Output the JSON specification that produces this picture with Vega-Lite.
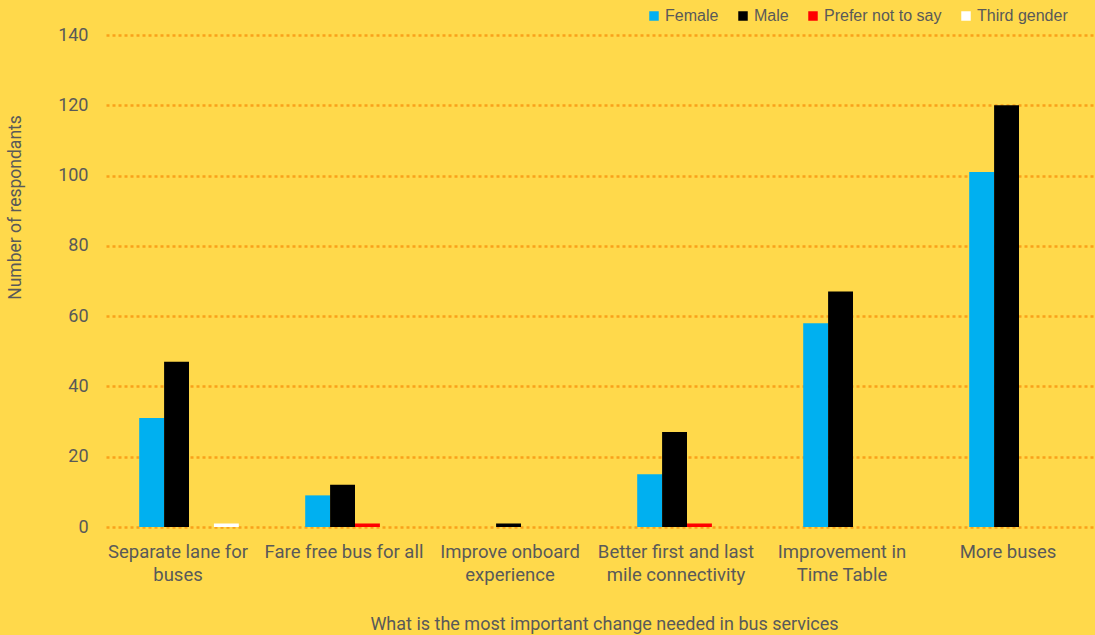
{
  "$schema": "https://vega.github.io/schema/vega-lite/v6.json",
  "autosize": {"type": "none"},
  "width": 989,
  "height": 492,
  "padding": {"left": 106, "top": 35, "right": 0, "bottom": 108},
  "background": "#FFD94B",
  "config": {
    "view": {"stroke": null},
    "axis": {"labelColor": "#595959", "titleColor": "#595959", "labelFont": "Roboto", "titleFont": "Roboto", "titleFontWeight": "normal"}
  },
  "data": {
    "values": [
      {"change": "Separate lane for buses", "gender": "Female", "count": 31},
      {"change": "Separate lane for buses", "gender": "Male", "count": 47},
      {"change": "Separate lane for buses", "gender": "Prefer not to say", "count": 0},
      {"change": "Separate lane for buses", "gender": "Third gender", "count": 1},
      {"change": "Fare free bus for all", "gender": "Female", "count": 9},
      {"change": "Fare free bus for all", "gender": "Male", "count": 12},
      {"change": "Fare free bus for all", "gender": "Prefer not to say", "count": 1},
      {"change": "Fare free bus for all", "gender": "Third gender", "count": 0},
      {"change": "Improve onboard experience", "gender": "Female", "count": 0},
      {"change": "Improve onboard experience", "gender": "Male", "count": 1},
      {"change": "Improve onboard experience", "gender": "Prefer not to say", "count": 0},
      {"change": "Improve onboard experience", "gender": "Third gender", "count": 0},
      {"change": "Better first and last mile connectivity", "gender": "Female", "count": 15},
      {"change": "Better first and last mile connectivity", "gender": "Male", "count": 27},
      {"change": "Better first and last mile connectivity", "gender": "Prefer not to say", "count": 1},
      {"change": "Better first and last mile connectivity", "gender": "Third gender", "count": 0},
      {"change": "Improvement in Time Table", "gender": "Female", "count": 58},
      {"change": "Improvement in Time Table", "gender": "Male", "count": 67},
      {"change": "Improvement in Time Table", "gender": "Prefer not to say", "count": 0},
      {"change": "Improvement in Time Table", "gender": "Third gender", "count": 0},
      {"change": "More buses", "gender": "Female", "count": 101},
      {"change": "More buses", "gender": "Male", "count": 120},
      {"change": "More buses", "gender": "Prefer not to say", "count": 0},
      {"change": "More buses", "gender": "Third gender", "count": 0}
    ]
  },
  "mark": {"type": "bar"},
  "encoding": {
    "x": {
      "field": "change",
      "type": "nominal",
      "sort": null,
      "scale": {"range": [0, 996], "paddingInner": 0.4, "paddingOuter": 0.2},
      "axis": {
        "title": "What is the most important change needed in bus services",
        "titleFontSize": 18,
        "titleX": 498,
        "titleY": 97,
        "titleBaseline": "middle",
        "labelAngle": 0,
        "labelFontSize": 18.5,
        "labelPadding": 15,
        "labelLineHeight": 23,
        "labelOffset": -11,
        "labelBaseline": "top",
        "ticks": false,
        "domain": false,
        "labelExpr": "datum.label == 'Separate lane for buses' ? ['Separate lane for', 'buses'] : datum.label == 'Improve onboard experience' ? ['Improve onboard', 'experience'] : datum.label == 'Better first and last mile connectivity' ? ['Better first and last', 'mile connectivity'] : datum.label == 'Improvement in Time Table' ? ['Improvement in', 'Time Table'] : datum.label"
      }
    },
    "xOffset": {
      "field": "gender",
      "type": "nominal",
      "scale": {"domain": ["Female", "Male", "Prefer not to say", "Third gender"], "paddingInner": 0, "paddingOuter": 0}
    },
    "y": {
      "field": "count",
      "type": "quantitative",
      "scale": {"domain": [0, 140]},
      "axis": {
        "title": "Number of respondants",
        "titleFontSize": 17.5,
        "titleX": -91,
        "titleY": 172,
        "titleAlign": "center",
        "titleBaseline": "middle",
        "values": [0, 20, 40, 60, 80, 100, 120, 140],
        "labelFontSize": 18,
        "labelPadding": 18,
        "ticks": false,
        "domain": false,
        "grid": true,
        "gridColor": "#F9A11B",
        "gridWidth": 2.5,
        "gridDash": [3, 3]
      }
    },
    "color": {
      "field": "gender",
      "type": "nominal",
      "scale": {"domain": ["Female", "Male", "Prefer not to say", "Third gender"], "range": ["#00B0F0", "#000000", "#FF0000", "#FFFFFF"]},
      "legend": {
        "title": null,
        "orient": "none",
        "legendX": 540,
        "legendY": -27,
        "direction": "horizontal",
        "symbolType": "square",
        "symbolSize": 90,
        "symbolStrokeWidth": 0,
        "labelFont": "Liberation Sans",
        "labelFontSize": 16,
        "labelColor": "#595959",
        "labelOffset": 3,
        "columnPadding": 16
      }
    }
  }
}
